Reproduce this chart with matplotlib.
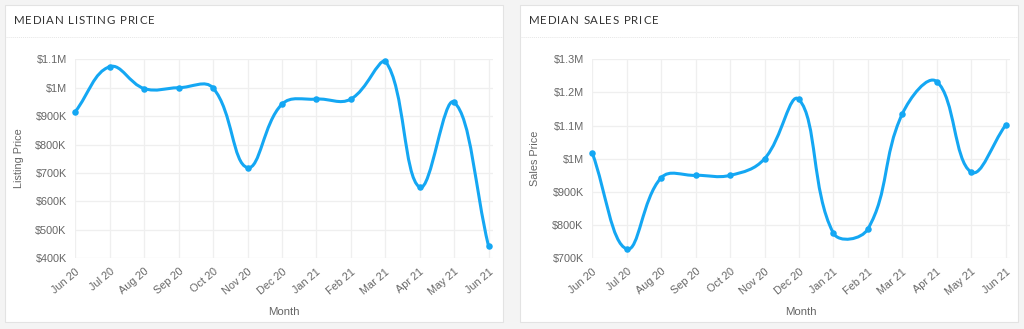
import matplotlib
matplotlib.use("Agg")
import math
import matplotlib.pyplot as plt
from matplotlib.path import Path
from matplotlib.patches import PathPatch, Rectangle
from matplotlib.lines import Line2D

months = ["Jun 20", "Jul 20", "Aug 20", "Sep 20", "Oct 20", "Nov 20", "Dec 20",
          "Jan 21", "Feb 21", "Mar 21", "Apr 21", "May 21", "Jun 21"]
# values in thousands of dollars
listing_price = [916, 1074, 997, 1000, 999, 719, 942, 960, 960, 1094, 650, 949, 443]
sales_price = [1017, 728, 943, 950, 950, 1000, 1179, 776, 788, 1135, 1233, 960, 1101]

listing_ticks = [400, 500, 600, 700, 800, 900, 1000, 1100]
sales_ticks = [700, 800, 900, 1000, 1100, 1200, 1300]

BLUE = "#14a7f3"
GREY = "#666666"
GRID = "#efefef"
W, H = 1024, 329


def money(v):
    if v >= 1000:
        return "$%gM" % (v / 1000)
    return "$%dK" % v


def spline_path(ax, xs, ys, tension=0.4):
    # chart.js style cubic spline, control points worked out in pixel space
    pts = ax.transData.transform(list(zip(xs, ys)))
    lo, hi = ax.transData.transform([(0, ax.get_ylim()[0]), (0, ax.get_ylim()[1])])[:, 1]
    n = len(pts)
    ctrl = []
    for i in range(n):
        p = pts[max(i - 1, 0)]
        c = pts[i]
        q = pts[min(i + 1, n - 1)]
        d01 = math.hypot(*(c - p))
        d12 = math.hypot(*(q - c))
        tot = d01 + d12
        s01 = d01 / tot if tot else 0
        s12 = d12 / tot if tot else 0
        fa, fb = tension * s01, tension * s12
        prev_c = c - fa * (q - p)
        next_c = c + fb * (q - p)
        prev_c[1] = min(max(prev_c[1], lo), hi)
        next_c[1] = min(max(next_c[1], lo), hi)
        ctrl.append((prev_c, next_c))
    verts = [pts[0]]
    codes = [Path.MOVETO]
    for i in range(1, n):
        verts += [ctrl[i - 1][1], ctrl[i][0], pts[i]]
        codes += [Path.CURVE4] * 3
    inv = ax.transData.inverted()
    return Path(inv.transform(verts), codes)


def spaced_title(fig, x_px, y_px, title, spacing=0.8):
    # matplotlib has no letter-spacing, so place the letters one by one
    r = fig.canvas.get_renderer()
    x = x_px
    for ch in title:
        t = fig.text(x / W, y_px / H, ch, fontsize=8.3, color="#333333",
                     family="Lato", va="center", ha="left")
        if ch == " ":
            x += 3.2 + spacing
        else:
            x += t.get_window_extent(r).width + spacing


def card(fig, x0, title):
    # white panel with a title strip, positions in pixels
    fig.patches.append(Rectangle((x0 / W, 7 / H), 498 / W, 317 / H, transform=fig.transFigure,
                                 facecolor="white", edgecolor="#e3e3e3", lw=0.8, zorder=-5))
    fig.lines.append(Line2D([x0 / W, (x0 + 498) / W], [(H - 37) / H] * 2, transform=fig.transFigure,
                            color="#e6e6e6", lw=0.7, ls=(0, (1, 1)), zorder=-4))
    spaced_title(fig, x0 + 9, H - 21, title)


def panel(fig, left_px, values, ticks, ylabel, ylabel_px):
    ax = fig.add_axes([left_px / W, (H - 258.3) / H, 418 / W, 199 / H])
    x = list(range(len(months)))
    ax.set_xlim(-0.01, 12.13)
    ax.set_ylim(ticks[0], ticks[-1])
    ax.set_yticks(ticks)
    ax.set_yticklabels([money(t) for t in ticks])
    ax.set_xticks(x)
    ax.set_xticklabels(months, rotation=40, ha="right", rotation_mode="anchor")
    ax.tick_params(length=0, labelsize=7.8, labelcolor=GREY, pad=6)
    for lab in ax.get_xticklabels() + ax.get_yticklabels():
        lab.set_family("Liberation Sans")
    ax.grid(True, color=GRID, lw=0.9)
    ax.set_axisbelow(True)
    for s in ax.spines.values():
        s.set_visible(False)
    ax.patch.set_alpha(0)
    ax.add_patch(PathPatch(spline_path(ax, x, values), facecolor="none", edgecolor=BLUE,
                           lw=2.2, capstyle="round", joinstyle="round", zorder=3,
                           clip_on=False))
    ax.scatter(x, values, s=22, color=BLUE, zorder=4, linewidths=0, clip_on=False)
    fig.text((left_px + 209) / W, (H - 312) / H, "Month", fontsize=8.2, color=GREY,
             family="Liberation Sans", ha="center", va="center")
    fig.text(ylabel_px / W, (H - 158.6) / H, ylabel, rotation=90, fontsize=7.8, color=GREY,
             family="Liberation Sans", ha="center", va="center")
    return ax


fig = plt.figure(figsize=(W / 100, H / 100), dpi=100, facecolor="#f4f4f4")
card(fig, 5, "MEDIAN LISTING PRICE")
card(fig, 520, "MEDIAN SALES PRICE")
panel(fig, 75, listing_price, listing_ticks, "Listing Price", 19)
panel(fig, 592, sales_price, sales_ticks, "Sales Price", 535)
fig.savefig("out.png", dpi=100, facecolor=fig.get_facecolor())
